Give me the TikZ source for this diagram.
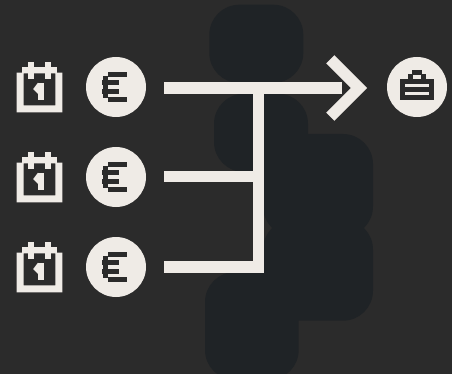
\documentclass[tikz,border=0pt]{standalone}
\definecolor{bgc}{HTML}{2B2B2B}
\definecolor{blobc}{HTML}{1F2326}
\definecolor{fgc}{HTML}{EFEBE6}
\tikzset{
  blob/.style={fill=blobc,draw=none,rounded corners=30pt},
  disc/.style={circle,fill=fgc,draw=none,minimum size=60pt,inner sep=0pt},
  flow/.style={draw=fgc,line width=11.5pt,line cap=butt,miter limit=10},
  ink/.style={fill=bgc,draw=none},
  pale/.style={fill=fgc,draw=none},
  calendar/.pic={
    \fill[pale,even odd rule] (-29.3,-14.3) rectangle (16.3,25.3) (-22.3,-13.7) rectangle (9.3,18.3);
    \fill[pale] (-24.3,-20.3) rectangle (11.3,-13.7);
    \fill[pale] (-18.4,-25.3) rectangle (-11.6,-7.7);
    \fill[pale] (-1.4,-25.3) rectangle (5.4,-7.7);
    \fill[pale] (-8.4,-4.3) rectangle (-1.6,13.3);
    \fill[pale] (-8,-4.3) -- (-12.8,2) -- (-8,6.8) -- cycle;
  },
  euro/.pic={
    \fill[ink] (-8.3,-15.4) rectangle (11.3,-9.6);
    \fill[ink] (-8.3,9.6) rectangle (11.3,15.4);
    \fill[ink] (-13.8,-7.4) rectangle (3.3,-1.6);
    \fill[ink] (-13.8,1.6) rectangle (3.3,7.4);
    \fill[ink] (-13.4,-11) rectangle (-7.6,11);
  },
}
\begin{document}
\begin{tikzpicture}[x=1pt,y=-1pt]
\useasboundingbox (0,0) rectangle (452,374);
\fill[bgc] (0,0) rectangle (452,374);
% background blobs
\begin{scope}
\clip (0,0) rectangle (452,374);
\fill[blob] (209.3,4.7) rectangle (303.3,83);
\fill[blob] (214,93.7) rectangle (308,172);
\fill[blob] (263,134) rectangle (373,236.5);
\fill[blob] (263,219.5) rectangle (373,320.7);
\fill[blob] (205,272) rectangle (298.7,380);
\end{scope}
% icons
\foreach \n/\y in {1/87,2/177,3/267}{
  \pic at (46,\y) {calendar};
  \node[disc] (e\n) at (116,\y) {};
  \pic at (116,\y) {euro};
}
\node[disc] (case) at (417,87) {};
\begin{scope}[shift={(case.center)}]
  \fill[ink] (-17,-8) rectangle (17,13);
  \fill[ink] (-9,-13) rectangle (9,-8);
  \fill[ink] (-5,-17) rectangle (5,-12);
  \fill[pale] (-3.7,-11.7) rectangle (3.7,-8);
  \fill[pale] (-12,-2.7) rectangle (12,-0.3);
  \fill[pale] (-12,5.3) rectangle (12,7.7);
\end{scope}
% connectors
\coordinate (s1) at (164,88);
\coordinate (s2) at (164,176.7);
\coordinate (s3) at (164,267);
\coordinate (top) at (258.3,83);
\coordinate (j2) at (258.3,176.7);
\coordinate (lineend) at (341.7,88);
\coordinate (chevtop) at (330.3,59.3);
\coordinate (chevtip) at (359,88);
\coordinate (chevbot) at (330.3,116.7);
\draw[flow] (s1) -- (lineend);
\draw[flow] (s2) -- (j2);
\draw[flow] (s3) -| (top);
\draw[flow] (chevtop) -- (chevtip) -- (chevbot);
\end{tikzpicture}
\end{document}
